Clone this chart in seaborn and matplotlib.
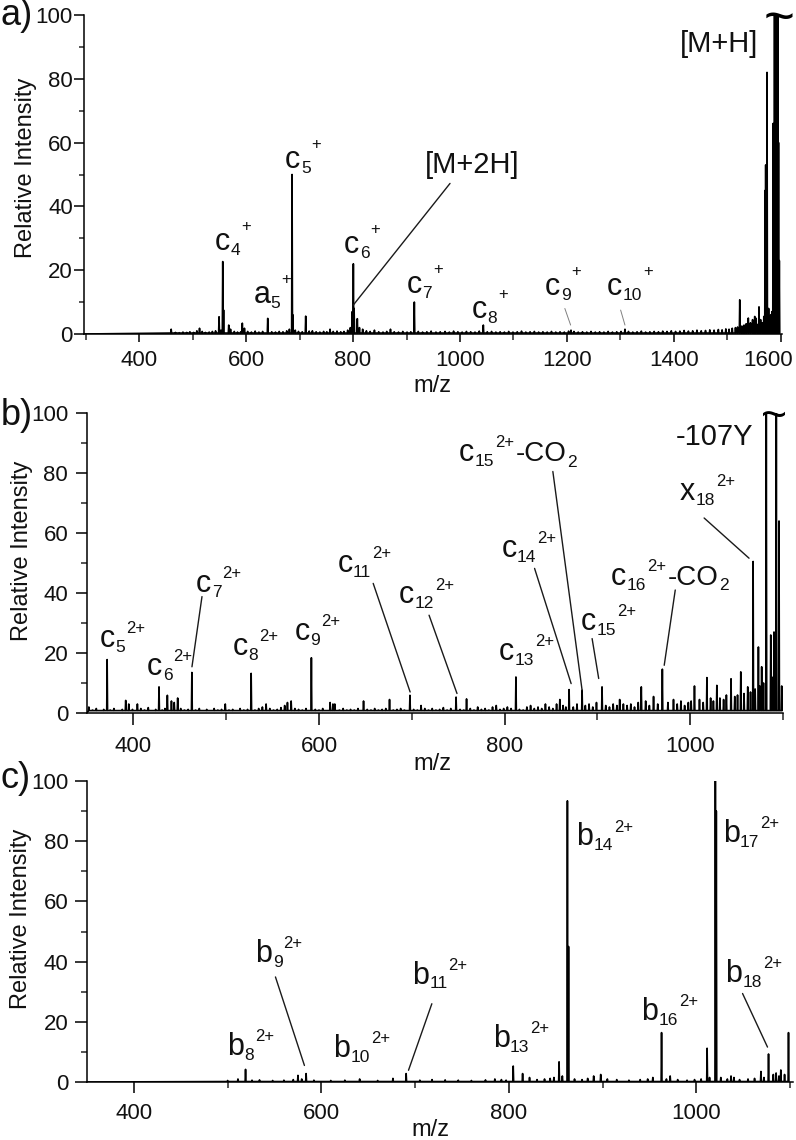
import numpy as np
import pandas as pd
import matplotlib
matplotlib.use("Agg")
import matplotlib.pyplot as plt
import seaborn as sns
from matplotlib.ticker import MultipleLocator
from matplotlib.textpath import TextToPath
from matplotlib.font_manager import FontProperties
from matplotlib.transforms import ScaledTranslation

# ---------------- data ----------------
# panel a: labelled / prominent peaks (m/z, relative intensity)
PEAKS_A_MZ = [549.5, 556.4, 558.0, 567.6, 593.0, 640.5, 686.0, 687.5, 711.5, 757.0,
              798.5, 800.6, 802.0, 808.0, 870.0, 914.6, 1043.6, 1207.5, 1308.4,
              1523.0, 1539.0, 1551.0, 1559.0, 1570.5, 1571.5, 1574.0, 1577.0, 1579.0,
              1581.0, 1583.0, 1585.5, 1588.0, 1590.0, 1592.0, 1594.0, 1595.5, 1597.0]
PEAKS_A_I = [5.4, 22.7, 7.5, 2.8, 3.4, 4.9, 50.0, 6.0, 5.6, 1.5,
             7.0, 22.0, 8.0, 4.8, 1.5, 10.0, 2.8, 1.2, 1.5,
             10.7, 5.0, 5.5, 8.5, 45.0, 53.0, 82.0, 8.0, 5.0,
             6.0, 7.0, 66.0, 100.0, 100.0, 100.0, 100.0, 60.0, 23.0]
# panel a: small baseline peaks
NOISE_A_MZ = [460, 468, 475, 482, 489, 495, 502, 508, 513, 518, 524, 531, 537, 543, 553,
              571, 578, 584, 590, 597, 603, 610, 617, 624, 631, 648, 655, 662, 669, 676,
              681, 692, 698, 705, 718, 724, 731, 738, 745, 751, 763, 770, 777, 783, 790,
              795, 812, 818, 825, 832, 840, 848, 856, 863, 877, 885, 893, 901, 908, 922,
              930, 938, 946, 955, 963, 972, 980, 988, 996, 1004, 1012, 1020, 1028, 1036,
              1051, 1059, 1067, 1075, 1083, 1091, 1099, 1107, 1115, 1123, 1131, 1139,
              1147, 1155, 1163, 1171, 1179, 1187, 1195, 1203, 1213, 1221, 1229, 1237,
              1245, 1253, 1261, 1269, 1277, 1285, 1293, 1301, 1315, 1323, 1331, 1339,
              1347, 1355, 1363, 1371, 1379, 1387, 1395, 1403, 1411, 1419, 1427, 1435,
              1443, 1451, 1459, 1467, 1475, 1483, 1490, 1497, 1503, 1509, 1515, 1519,
              1527, 1531, 1535, 1543, 1547, 1550, 1553, 1556, 1562, 1565, 1568]
NOISE_A_I = [1.5, 0.5, 0.4, 0.6, 0.5, 0.7, 0.5, 1.0, 1.8, 0.8, 0.5, 0.6, 0.8, 1.0, 1.2,
             1.5, 0.8, 0.6, 0.7, 1.8, 0.8, 0.6, 0.9, 0.6, 0.8, 0.7, 0.6, 0.8, 0.7, 1.0,
             1.5, 1.2, 0.8, 0.7, 0.9, 1.0, 0.7, 0.6, 0.8, 0.7, 0.8, 0.9, 0.7, 0.8, 1.2,
             2.0, 2.0, 1.5, 1.0, 0.8, 1.2, 0.7, 0.6, 0.8, 0.7, 0.6, 0.8, 0.6, 0.7, 0.8,
             0.6, 0.7, 0.9, 0.6, 0.7, 0.8, 0.6, 0.9, 0.7, 0.6, 0.8, 0.7, 0.6, 0.9,
             0.7, 0.8, 0.6, 0.7, 0.6, 0.8, 0.6, 0.7, 0.9, 0.6, 0.7, 0.8,
             0.6, 0.7, 0.6, 0.8, 0.6, 0.7, 0.6, 0.9, 0.8, 0.6, 0.7, 0.6,
             0.8, 0.6, 0.7, 0.6, 0.8, 0.6, 0.7, 0.8, 0.8, 0.6, 0.7, 0.9,
             0.6, 0.7, 0.8, 0.7, 0.9, 0.8, 1.0, 0.8, 0.9, 1.1, 0.9, 1.0,
             1.2, 1.0, 1.1, 1.3, 1.2, 1.4, 1.3, 1.6, 1.5, 1.8, 2.0, 2.2,
             2.5, 2.8, 3.2, 3.5, 4.5, 3.2, 5.0, 3.0, 4.5, 3.5, 5.5]

# panel b
PEAKS_B_MZ = [371.7, 391.7, 404.3, 427.6, 436.6, 447.7, 463.0, 526.9, 570.0, 591.8,
              617.0, 648.0, 676.0, 698.0, 747.7, 759.0, 812.2, 859.5, 869.5, 883.5,
              905.0, 924.0, 947.3, 960.5, 970.0, 982.0, 1004.6, 1018.0, 1028.7, 1044.0,
              1054.5, 1062.0, 1067.8, 1073.5, 1077.0, 1082.0, 1086.8, 1090.3, 1092.8,
              1095.7, 1098.6]
PEAKS_B_I = [17.8, 4.2, 3.0, 8.7, 5.9, 5.0, 13.5, 13.2, 4.0, 18.4,
             3.0, 4.0, 4.5, 5.9, 5.3, 4.7, 12.0, 4.5, 7.8, 7.6,
             8.7, 4.5, 8.7, 5.5, 14.6, 4.5, 9.0, 11.8, 9.2, 11.4,
             13.7, 8.7, 50.5, 22.0, 15.4, 100.0, 26.0, 27.0, 100.0,
             64.0, 9.0]
NOISE_B_MZ = [352, 356, 360, 364, 368, 375, 379, 384, 388, 395, 399, 408, 412, 416, 420,
              424, 431, 434, 441, 444, 451, 455, 459, 467, 471, 475, 479, 483, 487, 491,
              495, 499, 503, 507, 511, 515, 519, 523, 531, 535, 539, 543, 547, 551, 555,
              559, 563, 566, 574, 578, 582, 586, 596, 600, 604, 608, 612, 615, 622, 626,
              630, 634, 638, 642, 652, 656, 660, 664, 668, 672, 680, 684, 688, 692, 702,
              706, 710, 714, 718, 722, 726, 730, 734, 738, 742, 752, 756, 763, 767, 771,
              775, 779, 783, 787, 791, 795, 799, 803, 807, 816, 820, 824, 828, 832, 836,
              840, 844, 848, 852, 856, 863, 866, 874, 878, 887, 891, 895, 899, 909, 913,
              917, 921, 928, 932, 936, 940, 944, 952, 956, 965, 976, 986, 990, 994, 998,
              1001, 1010, 1014, 1022, 1025, 1032, 1036, 1039, 1048, 1051, 1058, 1065,
              1070, 1075, 1079, 1088]
NOISE_B_I = [2.0, 1.0, 1.5, 0.8, 1.2, 1.0, 1.5, 0.8, 1.2, 3.0, 1.2, 1.5, 1.0, 1.8, 0.8,
             1.2, 1.0, 1.5, 4.0, 3.5, 1.5, 1.0, 1.2, 1.0, 1.5, 0.8, 1.2, 0.8, 1.5, 1.0,
             1.2, 3.0, 1.0, 1.2, 0.8, 1.5, 1.0, 1.2, 1.0, 1.5, 2.0, 3.0, 1.5, 1.0, 1.2,
             1.8, 2.5, 3.5, 1.5, 1.2, 1.0, 1.5, 1.2, 1.0, 1.5, 0.8, 3.5, 3.0, 1.0, 1.5,
             1.0, 1.2, 1.0, 1.5, 1.2, 1.0, 1.5, 1.0, 1.2, 1.5, 1.0, 1.2, 1.5, 1.0, 1.2,
             1.0, 2.5, 1.5, 1.0, 1.5, 1.0, 1.2, 1.8, 1.0, 1.5, 1.2, 1.0, 1.5, 1.0, 2.0,
             1.2, 1.5, 1.0, 2.0, 2.5, 1.2, 1.5, 2.0, 1.5, 1.2, 1.0, 2.0, 2.5, 1.5, 2.0,
             1.5, 3.0, 2.0, 1.5, 3.0, 2.5, 2.0, 2.0, 3.0, 2.5, 3.0, 2.0, 3.5, 2.5, 2.0,
             3.0, 2.5, 3.0, 2.5, 3.0, 2.0, 3.5, 4.0, 2.5, 3.0, 3.5, 3.0, 4.0, 2.5, 3.5,
             4.0, 4.5, 3.5, 5.0, 4.0, 5.0, 4.5, 6.0, 5.5, 6.0, 6.5, 7.0,
             8.0, 9.0, 10.0, 12.0]

# panel c
PEAKS_C_MZ = [511.0, 519.1, 534.0, 575.0, 579.0, 583.7, 640.8, 676.3, 690.4, 732.0,
              785.0, 804.6, 814.6, 853.5, 862.4, 863.6, 890.4, 897.9, 953.5, 962.8,
              972.0, 1011.4, 1020.2, 1021.2, 1036.9, 1068.8, 1076.9, 1085.0, 1090.0,
              1098.2]
PEAKS_C_I = [1.0, 4.2, 0.7, 2.2, 1.0, 2.8, 1.0, 1.2, 2.8, 0.7,
             1.0, 5.3, 2.8, 6.7, 93.4, 45.0, 2.0, 2.5, 1.5, 16.4,
             2.0, 11.2, 100.0, 90.0, 2.0, 3.5, 9.3, 3.0, 4.0,
             16.4]
NOISE_C_MZ = [500, 526, 548, 560, 570, 592, 610, 625, 660, 705, 718, 746, 760, 775, 792,
              797, 822, 830, 838, 844, 848, 857, 870, 878, 884, 905, 915, 928, 940, 948,
              968, 980, 990, 998, 1005, 1014, 1026, 1033, 1040, 1046, 1055, 1062, 1072,
              1082, 1088, 1094]
NOISE_C_I = [0.5, 0.6, 0.5, 0.6, 0.8, 0.6, 0.5, 0.6, 0.5, 0.6, 0.8, 0.6, 0.5, 0.7, 0.8,
             0.6, 1.5, 0.8, 1.0, 1.2, 1.5, 2.0, 1.0, 0.8, 1.2, 1.0, 0.8, 0.6, 0.8, 1.0,
             1.0, 0.8, 0.6, 0.8, 1.0, 1.5, 1.5, 1.0, 1.5, 0.8, 1.0, 1.2, 1.5,
             2.5, 2.0, 2.5]

# ion labels: (main, subscript, superscript, m/z, intensity, tail, tail subscript)
LABELS_A = [("c", "4", "+", 542, 26.3, "", ""), ("c", "5", "+", 673, 51.9, "", ""),
            ("a", "5", "+", 613.6, 9.6, "", ""), ("c", "6", "+", 783, 25.3, "", ""),
            ("c", "7", "+", 900, 12.8, "", ""), ("c", "8", "+", 1022, 4.9, "", ""),
            ("c", "9", "+", 1159, 12.2, "", ""), ("c", "10", "+", 1275, 12.2, "", "")]
PLAIN_A = [("[M+H]", 1411, 88.5), ("[M+2H]", 934.5, 50.4)]
LEADERS_A = [((981.3, 47.2), (800.6, 9.1), "k"), ((1196, 8.0), (1206.8, 2.8), "0.5"),
             ((1300.3, 7.5), (1308.4, 2.8), "0.5")]

LABELS_B = [("c", "5", "2+", 363.8, 22.0, "", ""), ("c", "6", "2+", 414.7, 12.6, "", ""),
            ("c", "7", "2+", 467.4, 40.4, "", ""), ("c", "8", "2+", 506.8, 19.3, "", ""),
            ("c", "9", "2+", 573.4, 24.3, "", ""), ("c", "11", "2+", 619.7, 47.1, "", ""),
            ("c", "12", "2+", 686.0, 36.5, "", ""), ("c", "13", "2+", 793.9, 17.6, "", ""),
            ("c", "14", "2+", 796.4, 52.1, "", ""), ("c", "15", "2+", 750.9, 83.9, "-CO", "2"),
            ("c", "15", "2+", 882.5, 27.6, "", ""), ("c", "16", "2+", 914.7, 42.7, "-CO", "2"),
            ("x", "18", "2+", 988.9, 71.0, "", "")]
PLAIN_B = [("-107Y", 984.6, 89.4)]
LEADERS_B = [((473.9, 38.8), (463.1, 15.4), "k"), ((658.4, 43.2), (698.2, 7.0), "k"),
             ((718.6, 32.6), (748.7, 6.5), "k"), ((832.3, 48.2), (871.7, 9.8), "k"),
             ((852.0, 80.5), (883.5, 7.6), "k"), ((894.3, 24.8), (901.4, 11.5), "k"),
             ((983.9, 41.0), (972.0, 15.9), "k"), ((1015.0, 65.0), (1063.4, 51.6), "k")]

LABELS_C = [("b", "8", "2+", 498.9, 8.9, "", ""), ("b", "9", "2+", 529.8, 39.9, "", ""),
            ("b", "10", "2+", 612.4, 8.3, "", ""), ("b", "11", "2+", 696.5, 32.7, "", ""),
            ("b", "13", "2+", 782.6, 11.6, "", ""), ("b", "14", "2+", 872.0, 78.6, "", ""),
            ("b", "16", "2+", 941.2, 20.5, "", ""), ("b", "17", "2+", 1028.0, 79.7, "", ""),
            ("b", "18", "2+", 1030.9, 33.2, "", "")]
LEADERS_C = [((551.0, 34.9), (581.9, 5.5), "k"), ((717.8, 26.0), (692.9, 3.9), "k"),
             ((1049.2, 29.4), (1075.8, 11.6), "k")]

XLIMS = [(297, 1602), (350, 1100), (350, 1103)]
MAJOR_X = [200, 200, 200]
PANEL_TAGS = ["a)", "b)", "c)"]

# ---------------- style ----------------
FONT = "Liberation Sans"
sns.set_theme(style="ticks")
plt.rcParams["font.family"] = [FONT, "DejaVu Sans"]
plt.rcParams["axes.linewidth"] = 1.1

_t2p = TextToPath()


def text_w(s, size):
    if not s:
        return 0.0
    w, h, d = _t2p.get_text_width_height_descent(s, FontProperties(family=FONT, size=size), ismath=False)
    return w


def profile(mz, inten, nmz, nint, base, hw, start):
    pts = []
    allp = sorted(list(zip(mz, inten)) + list(zip(nmz, nint)))
    pts.append((start, 0.0))
    for m, h in allp:
        pts.append((m - hw, base))
        pts.append((m, h))
        pts.append((m + hw, base))
    return pd.DataFrame(pts, columns=["mz", "intensity"])


W, H = 796, 1140
fig = plt.figure(figsize=(W / 100, H / 100), dpi=100)

boxes = [(84, 15, 782, 334), (87, 413, 783, 713), (87, 781, 793, 1082)]
axes = []
for (l, t, r, b) in boxes:
    axes.append(fig.add_axes([l / W, 1 - b / H, (r - l) / W, (b - t) / H]))

datasets = [
    (PEAKS_A_MZ, PEAKS_A_I, NOISE_A_MZ, NOISE_A_I, 0.3, 0.8),
    (PEAKS_B_MZ, PEAKS_B_I, NOISE_B_MZ, NOISE_B_I, 0.8, 0.45),
    (PEAKS_C_MZ, PEAKS_C_I, NOISE_C_MZ, NOISE_C_I, 0.15, 0.45),
]

tick_cfg = [
    dict(ymaj=7.2, ymin=3.6, ypad=0.8, xmaj=5.8, xmin=4.3, xpad=5.8, ylab=(-0.067, 0.52), xlab=(0.4986, -0.128)),
    dict(ymaj=8.0, ymin=4.3, ypad=5.5, xmaj=8.6, xmin=4.8, xpad=8.0, ylab=(-0.078, 0.54), xlab=(0.496, -0.135)),
    dict(ymaj=8.4, ymin=4.5, ypad=5.0, xmaj=8.0, xmin=4.5, xpad=7.2, ylab=(-0.078, 0.543), xlab=(0.486, -0.122)),
]

for i, ax in enumerate(axes):
    mz, it, nmz, nit, base, hw = datasets[i]
    df = profile(mz, it, nmz, nit, base, hw, XLIMS[i][0])
    sns.lineplot(data=df, x="mz", y="intensity", estimator=None, sort=False,
                 color="black", lw=1.2, ax=ax)
    ax.set_xlim(*XLIMS[i])
    ax.set_ylim(0, 100)
    ax.xaxis.set_major_locator(MultipleLocator(MAJOR_X[i]))
    ax.xaxis.set_minor_locator(MultipleLocator(100))
    ax.yaxis.set_major_locator(MultipleLocator(20))
    ax.yaxis.set_minor_locator(MultipleLocator(10))
    cfg = tick_cfg[i]
    ax.tick_params(axis="y", which="major", length=cfg["ymaj"], width=1.1, pad=cfg["ypad"],
                   labelsize=16, direction="out", color="black", labelcolor="#111")
    ax.tick_params(axis="y", which="minor", length=cfg["ymin"], width=1.1, direction="out")
    ax.tick_params(axis="x", which="major", length=cfg["xmaj"], width=1.1, pad=cfg["xpad"],
                   labelsize=16, direction="out", color="black", labelcolor="#111")
    ax.tick_params(axis="x", which="minor", length=cfg["xmin"], width=1.1, direction="out")
    for s in ["top", "right"]:
        ax.spines[s].set_visible(False)
    for s in ["left", "bottom"]:
        ax.spines[s].set_color("black")
    ax.set_ylabel("Relative Intensity", fontsize=17, color="#111")
    ax.yaxis.set_label_coords(*cfg["ylab"])
    ax.set_xlabel("m/z", fontsize=17, color="#111")
    ax.xaxis.set_label_coords(*cfg["xlab"])
    ax.patch.set_alpha(0)

# keep the last tick label of panel a inside the figure, as in the reference
fig.canvas.draw()
for lab in axes[0].get_xticklabels():
    if lab.get_text() in ("1600", "1,600"):
        lab.set_transform(lab.get_transform() + ScaledTranslation(-9 / 72, 0, fig.dpi_scale_trans))


def ion_label(ax, main, sub, sup, x, y, tail, tsub, size=22, ssize=12.5, sup_dy=14.0, sub_dy=-3.5):
    kw = dict(xycoords="data", textcoords="offset points", ha="left", va="baseline", color="#111",
              annotation_clip=False)
    ax.annotate(main, (x, y), xytext=(0, 0), fontsize=size, **kw)
    wm = text_w(main, size)
    ax.annotate(sub, (x, y), xytext=(wm + 0.3, sub_dy), fontsize=ssize, **kw)
    ws = text_w(sub, ssize)
    ax.annotate(sup, (x, y), xytext=(wm + ws + 1.0, sup_dy), fontsize=ssize - 0.5, **kw)
    if tail:
        wp = text_w(sup, ssize - 0.5)
        x0 = wm + ws + 1.0 + wp + 1.0
        ax.annotate(tail, (x, y), xytext=(x0, 0), fontsize=20, **kw)
        wt = text_w(tail, 20)
        ax.annotate(tsub, (x, y), xytext=(x0 + wt + 0.5, sub_dy - 0.5), fontsize=ssize, **kw)


for lab in LABELS_A:
    ion_label(axes[0], lab[0], lab[1], lab[2], lab[3], lab[4], lab[5], lab[6], sup_dy=14.0)
for txt, x, y in PLAIN_A:
    axes[0].text(x, y, txt, fontsize=21, ha="left", va="baseline", color="#111")
for (p0, p1, c) in LEADERS_A:
    axes[0].plot([p0[0], p1[0]], [p0[1], p1[1]], color=c, lw=1.0 if c == "k" else 0.7)

for lab in LABELS_B:
    ion_label(axes[1], lab[0], lab[1], lab[2], lab[3], lab[4], lab[5], lab[6], sup_dy=10.0)
for txt, x, y in PLAIN_B:
    axes[1].text(x, y, txt, fontsize=21, ha="left", va="baseline", color="#111")
for (p0, p1, c) in LEADERS_B:
    axes[1].plot([p0[0], p1[0]], [p0[1], p1[1]], color=c, lw=1.0)

for lab in LABELS_C:
    ion_label(axes[2], lab[0], lab[1], lab[2], lab[3], lab[4], lab[5], lab[6], sup_dy=10.0)
for (p0, p1, c) in LEADERS_C:
    axes[2].plot([p0[0], p1[0]], [p0[1], p1[1]], color=c, lw=1.0)

# truncation marks on the off-scale peaks
axes[0].text(1597, 98.5, "~", fontsize=38, ha="center", va="center", color="black", clip_on=False)
axes[1].text(1090, 98.5, "~", fontsize=32, ha="center", va="center", color="black", clip_on=False)

# panel tags
for tag, yb in zip(PANEL_TAGS, [25, 425, 788]):
    fig.text(1 / W, 1 - yb / H, tag, fontsize=26, ha="left", va="baseline", color="#111")

fig.savefig("out.png", dpi=100, facecolor="white")
